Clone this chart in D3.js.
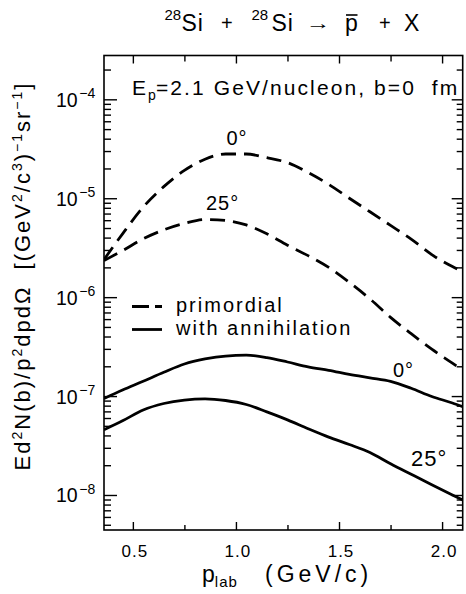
<!DOCTYPE html>
<html>
<head>
<meta charset="utf-8">
<script src="https://cdn.jsdelivr.net/npm/d3@7"></script>
<style>
  html, body { margin: 0; padding: 0; background: #fff; }
  svg { display: block; }
  text { font-family: "Liberation Sans", Arial, Helvetica, sans-serif; fill: #000; white-space: pre; }
</style>
</head>
<body>
<script>
// Antiproton invariant cross section vs. lab momentum, Si+Si at 2.1 GeV/nucleon
const pLab = [0.36, 0.45, 0.55, 0.65, 0.75, 0.85, 0.95, 1.05, 1.15, 1.25, 1.35, 1.45, 1.55, 1.65, 1.75, 1.85, 1.95, 2.05, 2.1];

// primordial (dashed)
const primordial0deg  = [2.40e-6, 4.37e-6, 8.13e-6, 1.31e-5, 1.91e-5, 2.48e-5, 2.80e-5, 2.80e-5, 2.57e-5, 2.29e-5, 1.82e-5, 1.38e-5, 1.00e-5, 7.30e-6, 5.31e-6, 3.86e-6, 2.69e-6, 2.04e-6, 1.82e-6];
const primordial25deg = [2.34e-6, 2.95e-6, 3.89e-6, 4.79e-6, 5.56e-6, 6.10e-6, 5.96e-6, 5.37e-6, 4.37e-6, 3.35e-6, 2.63e-6, 2.00e-6, 1.41e-6, 9.60e-7, 6.25e-7, 4.27e-7, 2.98e-7, 2.15e-7, 1.82e-7];

// with annihilation (solid)
const annihil0deg  = [9.44e-8, 1.15e-7, 1.41e-7, 1.74e-7, 2.11e-7, 2.37e-7, 2.54e-7, 2.59e-7, 2.45e-7, 2.21e-7, 1.97e-7, 1.82e-7, 1.66e-7, 1.53e-7, 1.41e-7, 1.20e-7, 9.90e-8, 8.50e-8, 7.80e-8];
const annihil25deg = [4.57e-8, 5.62e-8, 7.24e-8, 8.41e-8, 9.12e-8, 9.38e-8, 9.02e-8, 8.22e-8, 6.92e-8, 5.75e-8, 4.68e-8, 3.85e-8, 3.24e-8, 2.69e-8, 2.07e-8, 1.62e-8, 1.27e-8, 1.00e-8, 8.90e-9];

// axis ticks
const xMajorTicks = [0.5, 1.0, 1.5, 2.0];
const xMinorTicks = [0.75, 1.25, 1.75];
const xTickLabels = ["0.5", "1.0", "1.5", "2.0"];
const yDecadeExps = [-8, -7, -6, -5, -4];

const W = 466, H = 594;
const plotL = 104, plotR = 462.7, plotT = 55.5, plotB = 530;

const svg = d3.select("body").append("svg").attr("width", W).attr("height", H);

const x = d3.scaleLinear().domain([0.36, 2.1]).range([plotL, plotR]);
const y = d3.scaleLog().domain([Math.pow(10, -8.354), Math.pow(10, -3.557)]).range([plotB, plotT]);

// minor log ticks 2..9 in each decade inside the domain
const yMajor = yDecadeExps.map(e => Math.pow(10, e));
const yMinor = [];
for (let e = -9; e <= -4; e++) {
  for (let m = 2; m <= 9; m++) {
    const v = m * Math.pow(10, e);
    if (v > y.domain()[0] && v < y.domain()[1]) yMinor.push(v);
  }
}

function tickAxis(axisFn, scale, values, size, tx, ty) {
  const g = svg.append("g")
    .attr("transform", `translate(${tx},${ty})`)
    .call(axisFn(scale).tickValues(values).tickSize(size).tickFormat(""));
  g.select(".domain").remove();
  g.selectAll(".tick line").attr("stroke", "#000").attr("stroke-width", 1.4);
}

// ticks point inward on all four sides
tickAxis(d3.axisBottom, x, xMajorTicks, -8, 0, plotB);
tickAxis(d3.axisBottom, x, xMinorTicks, -5, 0, plotB);
tickAxis(d3.axisTop, x, xMajorTicks, -8, 0, plotT);
tickAxis(d3.axisTop, x, xMinorTicks, -6, 0, plotT);
tickAxis(d3.axisLeft, y, yMajor, -13, plotL, 0);
tickAxis(d3.axisLeft, y, yMinor, -7, plotL, 0);
tickAxis(d3.axisRight, y, yMajor, -11, plotR, 0);
tickAxis(d3.axisRight, y, yMinor, -6, plotR, 0);

// frame
svg.append("rect")
  .attr("x", plotL).attr("y", plotT)
  .attr("width", plotR - plotL).attr("height", plotB - plotT)
  .attr("fill", "none").attr("stroke", "#000").attr("stroke-width", 1.6);

// curves
svg.append("clipPath").attr("id", "plotArea")
  .append("rect").attr("x", plotL).attr("y", plotT).attr("width", plotR - plotL).attr("height", plotB - plotT);

const lineGen = d3.line().x(d => x(d[0])).y(d => y(d[1])).curve(d3.curveMonotoneX);

const series = [
  { values: primordial0deg,  dashed: true },
  { values: primordial25deg, dashed: true },
  { values: annihil0deg,     dashed: false },
  { values: annihil25deg,    dashed: false }
];

const curves = svg.append("g").attr("clip-path", "url(#plotArea)");
series.forEach(s => {
  curves.append("path")
    .datum(pLab.map((p, i) => [p, s.values[i]]))
    .attr("d", lineGen)
    .attr("fill", "none")
    .attr("stroke", "#000")
    .attr("stroke-width", 2.8)
    .attr("stroke-dasharray", s.dashed ? "15,8" : null);
});

// x tick labels
svg.append("g").selectAll("text")
  .data(xMajorTicks)
  .join("text")
  .attr("x", d => x(d) + 2)
  .attr("y", 557)
  .attr("text-anchor", "middle")
  .attr("font-size", 17)
  .attr("letter-spacing", 1)
  .text((d, i) => xTickLabels[i]);

// y tick labels: 10^n
yDecadeExps.forEach(e => {
  const t = svg.append("text")
    .attr("x", 56)
    .attr("y", y(Math.pow(10, e)) + 7.5)
    .attr("font-size", 19.5);
  t.append("tspan").text("10");
  t.append("tspan").attr("dy", -8.5).attr("dx", 1.5).attr("font-size", 14).text("\u2212" + Math.abs(e));
});

// title
const titleG = svg.append("g");
function tt(str, tx, ty, fs) {
  return titleG.append("text").attr("x", tx).attr("y", ty).attr("font-size", fs).text(str);
}
tt("28", 164.5, 20, 15);
tt("Si", 181.5, 31, 23).attr("letter-spacing", 1);
tt("+", 221, 30, 20);
tt("28", 251.5, 20, 15);
tt("Si", 271.5, 31, 23).attr("letter-spacing", 1);
titleG.append("text")
  .attr("transform", "translate(306,29) scale(1.45,1)")
  .attr("font-family", "DejaVu Sans")
  .attr("font-size", 17)
  .text("\u2192");
tt("p", 345, 31, 23);
titleG.append("line").attr("x1", 346).attr("x2", 357.5).attr("y1", 15).attr("y2", 15)
  .attr("stroke", "#000").attr("stroke-width", 1.6);
tt("+", 379, 30, 20);
tt("X", 404, 31, 23);

// condition label inside the frame
const cond = svg.append("text").attr("x", 132).attr("y", 95).attr("font-size", 21).attr("letter-spacing", 2.1);
cond.append("tspan").text("E");
cond.append("tspan").attr("dy", 5).attr("font-size", 14).attr("letter-spacing", 0).text("p");
cond.append("tspan").attr("dy", -5).text("=2.1 GeV/nucleon, b=0  fm");

// angle labels
function lab(str, tx, ty, fs) {
  svg.append("text").attr("x", tx).attr("y", ty).attr("font-size", fs).attr("letter-spacing", 1).text(str);
}
lab("0\u00b0", 226.5, 145, 20);
lab("25\u00b0", 206, 210, 20);
lab("0\u00b0", 393, 377, 20);
lab("25\u00b0", 411, 466, 22);

// legend
svg.append("line").attr("x1", 132).attr("x2", 162).attr("y1", 306.5).attr("y2", 306.5)
  .attr("stroke", "#000").attr("stroke-width", 2.8).attr("stroke-dasharray", "17,6,7");
svg.append("line").attr("x1", 132).attr("x2", 162).attr("y1", 329.5).attr("y2", 329.5)
  .attr("stroke", "#000").attr("stroke-width", 2.8);
svg.append("text").attr("x", 176).attr("y", 311.5).attr("font-size", 20).attr("letter-spacing", 2).text("primordial");
svg.append("text").attr("x", 176).attr("y", 334.5).attr("font-size", 20).attr("letter-spacing", 2).text("with annihilation");

// x axis title
const xt = svg.append("text").attr("x", 202).attr("y", 582).attr("font-size", 23);
xt.append("tspan").text("p");
xt.append("tspan").attr("dy", 5).attr("font-size", 15).attr("letter-spacing", 1).text("lab");
xt.append("tspan").attr("x", 265).attr("dy", -5).attr("letter-spacing", 4).text("(GeV/c)");

// y axis title
const yt = svg.append("text")
  .attr("transform", "translate(30,276) rotate(-90)")
  .attr("text-anchor", "middle")
  .attr("font-size", 22)
  .attr("letter-spacing", 2);
yt.append("tspan").text("Ed");
yt.append("tspan").attr("dy", -8).attr("font-size", 14).text("2");
yt.append("tspan").attr("dy", 8).text("N(b)/p");
yt.append("tspan").attr("dy", -8).attr("font-size", 14).text("2");
yt.append("tspan").attr("dy", 8).text("dpd\u03a9  [(GeV");
yt.append("tspan").attr("dy", -8).attr("font-size", 14).text("2");
yt.append("tspan").attr("dy", 8).text("/c");
yt.append("tspan").attr("dy", -8).attr("font-size", 14).text("3");
yt.append("tspan").attr("dy", 8).text(")");
yt.append("tspan").attr("dy", -8).attr("font-size", 14).text("\u22121");
yt.append("tspan").attr("dy", 8).text("sr");
yt.append("tspan").attr("dy", -8).attr("font-size", 14).text("\u22121");
yt.append("tspan").attr("dy", 8).text("]");
</script>
</body>
</html>
